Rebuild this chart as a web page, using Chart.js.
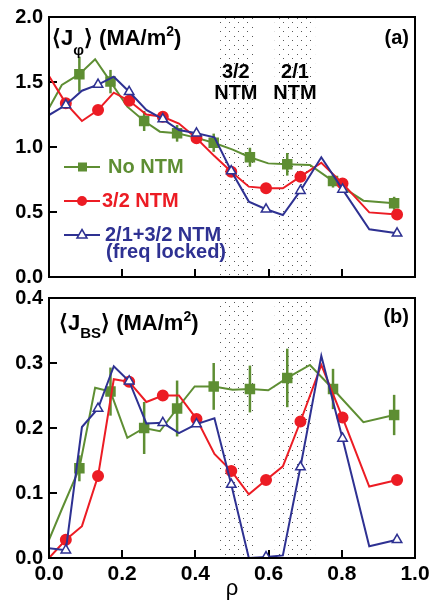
<!DOCTYPE html>
<html>
<head>
<meta charset="utf-8">
<script src="https://cdn.jsdelivr.net/npm/chart.js@4.4.1/dist/chart.umd.min.js"></script>
<style>
    body { margin: 0; background: #fff; width: 443px; height: 602px; position: relative; overflow: hidden; }
    canvas { position: absolute; left: 0; }
    #topChart { top: 0; }
    #botChart { top: 284px; }
</style>
</head>
<body>
<canvas id="topChart" width="443" height="290"></canvas>
<canvas id="botChart" width="443" height="318"></canvas>
<script>
// radial grid of each profile (rho)
const rhoNoNtm = [0, 0.035, 0.083, 0.126, 0.168, 0.214, 0.26, 0.303, 0.35, 0.398, 0.45, 0.502, 0.549, 0.599, 0.651, 0.713, 0.776, 0.859, 0.943];
const rhoNtm = [0, 0.046, 0.09, 0.134, 0.177, 0.219, 0.266, 0.311, 0.355, 0.403, 0.452, 0.498, 0.546, 0.593, 0.639, 0.687, 0.744, 0.802, 0.875, 0.951];

// (a) <J_phi> in MA/m2
const jphiNoNtm = [1.30, 1.477, 1.56, 1.675, 1.503, 1.31, 1.20, 1.118, 1.105, 1.074, 1.033, 0.98, 0.921, 0.874, 0.867, 0.862, 0.738, 0.587, 0.567];
const jphiNoNtmErr = [null, null, 0.135, null, 0.09, null, 0.077, null, 0.064, null, 0.07, null, 0.073, null, 0.087, null, 0.05, null, 0.05];
const jphi32Ntm = [1.546, 1.336, 1.20, 1.285, 1.418, 1.356, 1.25, 1.233, 1.18, 1.067, 0.93, 0.81, 0.695, 0.682, 0.682, 0.772, 0.879, 0.72, 0.497, 0.48];
const jphi21Ntm = [1.246, 1.323, 1.433, 1.48, 1.541, 1.425, 1.285, 1.215, 1.131, 1.105, 1.074, 0.815, 0.58, 0.521, 0.477, 0.664, 0.921, 0.674, 0.367, 0.336];

// (b) <J_BS> in MA/m2
const jbsNoNtm = [0.028, 0.075, 0.138, 0.262, 0.256, 0.185, 0.20, 0.195, 0.23, 0.264, 0.264, 0.259, 0.26, 0.258, 0.277, 0.297, 0.26, 0.209, 0.22];
const jbsNoNtmErr = [null, null, 0.02, null, 0.037, null, 0.04, null, 0.043, null, 0.036, null, 0.036, null, 0.045, null, 0.031, null, 0.031];
const jbs32Ntm = [0.0, 0.028, 0.049, 0.126, 0.275, 0.271, 0.24, 0.25, 0.25, 0.214, 0.16, 0.134, 0.098, 0.12, 0.141, 0.21, 0.297, 0.216, 0.11, 0.12];
const jbs21Ntm = [0.015, 0.012, 0.2015, 0.23, 0.295, 0.272, 0.207, 0.208, 0.192, 0.206, 0.215, 0.113, 0.0, 0.0015, 0.004, 0.14, 0.311, 0.184, 0.018, 0.028];

// island regions of the 3/2 and 2/1 modes
const ntmBands = [[0.463, 0.558], [0.617, 0.727]];
const ntmBandLabels = ['3/2', '2/1'];

const GREEN = '#5e8e33';
const RED = '#ec1c24';
const BLUE = '#2e3192';
const FONT = "'Liberation Sans', Arial, sans-serif";

Chart.defaults.font.family = FONT;

function series(rho, vals) {
    return rho.map((r, i) => ({ x: r, y: vals[i] }));
}

function makeDatasets(noNtm, noNtmErr, ntm32, ntm21) {
    return [
        {
            label: 'No NTM',
            data: series(rhoNoNtm, noNtm),
            errors: noNtmErr,
            borderColor: GREEN,
            backgroundColor: GREEN,
            borderWidth: 2,
            pointStyle: 'rect',
            pointRadius: (c) => noNtmErr[c.dataIndex] != null ? 6 : 0,
            order: 3
        },
        {
            label: '3/2 NTM',
            data: series(rhoNtm, ntm32),
            borderColor: RED,
            backgroundColor: RED,
            borderWidth: 2,
            pointStyle: 'circle',
            pointRadius: (c) => c.dataIndex % 2 === 1 ? 5 : 0,
            order: 2
        },
        {
            label: '2/1+3/2 NTM',
            data: series(rhoNtm, ntm21),
            borderColor: BLUE,
            backgroundColor: '#fff',
            borderWidth: 2,
            pointStyle: 'triangle',
            pointRadius: (c) => c.dataIndex % 2 === 1 ? 5.5 : 0,
            pointBorderWidth: 1.5,
            order: 1
        }
    ];
}

// dotted fill for the island regions
function dotPattern(ctx) {
    const tile = document.createElement('canvas');
    tile.width = 9;
    tile.height = 9;
    const t = tile.getContext('2d');
    t.fillStyle = '#555';
    t.fillRect(0, 0, 1, 1);
    t.fillRect(4, 4, 1, 1);
    return ctx.createPattern(tile, 'repeat');
}

const bandsPlugin = {
    id: 'bands',
    beforeDatasetsDraw(chart) {
        const { ctx, chartArea, scales: { x } } = chart;
        ctx.save();
        ctx.fillStyle = dotPattern(ctx);
        ntmBands.forEach(b => {
            const x0 = x.getPixelForValue(b[0]);
            const x1 = x.getPixelForValue(b[1]);
            ctx.fillRect(x0, chartArea.top, x1 - x0, chartArea.bottom - chartArea.top);
        });
        ctx.restore();
    }
};

const errorBars = {
    id: 'errorBars',
    beforeDatasetsDraw(chart) {
        const { ctx, scales: { x, y } } = chart;
        chart.data.datasets.forEach(ds => {
            if (!ds.errors) return;
            ctx.save();
            ctx.strokeStyle = ds.borderColor;
            ctx.lineWidth = 2.5;
            ds.data.forEach((p, i) => {
                const e = ds.errors[i];
                if (e == null) return;
                const px = x.getPixelForValue(p.x);
                ctx.beginPath();
                ctx.moveTo(px, y.getPixelForValue(p.y - e));
                ctx.lineTo(px, y.getPixelForValue(p.y + e));
                ctx.stroke();
            });
            ctx.restore();
        });
    }
};

const framePlugin = {
    id: 'frame',
    afterDraw(chart) {
        const { ctx, chartArea: a } = chart;
        ctx.save();
        ctx.strokeStyle = '#000';
        ctx.lineWidth = 2;
        ctx.strokeRect(a.left, a.top, a.right - a.left, a.bottom - a.top);
        ctx.restore();
    }
};

// <J_sub> (MA/m2)
function drawUnitLabel(ctx, x, base, sub, subFont, subDy) {
    const big = 'bold 22px ' + FONT;
    ctx.textBaseline = 'alphabetic';
    ctx.textAlign = 'left';
    ctx.fillStyle = '#000';
    ctx.font = big;
    ctx.fillText('\u27E8J', x, base);
    let cx = x + ctx.measureText('\u27E8J').width;
    ctx.font = subFont;
    ctx.fillText(sub, cx, base + subDy);
    cx += ctx.measureText(sub).width;
    ctx.font = big;
    ctx.fillText('\u27E9 (MA/m', cx, base);
    cx += ctx.measureText('\u27E9 (MA/m').width;
    ctx.font = 'bold 14px ' + FONT;
    ctx.fillText('2', cx, base - 9);
    cx += ctx.measureText('2').width;
    ctx.font = big;
    ctx.fillText(')', cx, base);
}

function drawLegendRow(ctx, y, color, style, text, tx) {
    ctx.strokeStyle = color;
    ctx.lineWidth = 2;
    ctx.beginPath();
    ctx.moveTo(64, y);
    ctx.lineTo(100, y);
    ctx.stroke();
    if (style === 'rect') {
        ctx.fillStyle = color;
        ctx.fillRect(78, y - 4.5, 9, 9);
    } else if (style === 'circle') {
        ctx.fillStyle = color;
        ctx.beginPath();
        ctx.arc(82, y, 5, 0, Math.PI * 2);
        ctx.fill();
    } else {
        ctx.fillStyle = '#fff';
        ctx.lineWidth = 1.5;
        ctx.beginPath();
        ctx.moveTo(82, y - 5.5);
        ctx.lineTo(87, y + 3);
        ctx.lineTo(77, y + 3);
        ctx.closePath();
        ctx.fill();
        ctx.stroke();
    }
    ctx.fillStyle = color;
    ctx.font = 'bold 20px ' + FONT;
    ctx.textBaseline = 'middle';
    ctx.textAlign = 'left';
    ctx.fillText(text, tx, y);
}

const topText = {
    id: 'topText',
    afterDraw(chart) {
        const { ctx, scales: { x } } = chart;
        ctx.save();
        drawUnitLabel(ctx, 52, 45, '\u03C6', 'bold 15px ' + FONT, 10);
        ctx.font = 'bold 20px ' + FONT;
        ctx.textAlign = 'right';
        ctx.textBaseline = 'middle';
        ctx.fillText('(a)', 409, 38);
        ctx.textAlign = 'center';
        ntmBands.forEach((b, i) => {
            const cx = x.getPixelForValue((b[0] + b[1]) / 2);
            ctx.fillText(ntmBandLabels[i], cx, 72);
            ctx.fillText('NTM', cx, 93);
        });
        drawLegendRow(ctx, 167, GREEN, 'rect', 'No NTM', 108);
        drawLegendRow(ctx, 201, RED, 'circle', '3/2 NTM', 102);
        drawLegendRow(ctx, 235, BLUE, 'triangle', '2/1+3/2 NTM', 105);
        ctx.fillText('(freq locked)', 106, 252);
        ctx.restore();
    }
};

const botText = {
    id: 'botText',
    afterDraw(chart) {
        const { ctx } = chart;
        ctx.save();
        drawUnitLabel(ctx, 59, 46, 'BS', 'bold 15px ' + FONT, 8);
        ctx.font = 'bold 20px ' + FONT;
        ctx.textAlign = 'right';
        ctx.textBaseline = 'middle';
        ctx.fillText('(b)', 409, 33);
        ctx.restore();
    }
};

function axisGrid() {
    return { drawOnChartArea: false, drawTicks: true, tickLength: -8, lineWidth: 2, color: '#000' };
}

function makeOptions(yMax, yStep, showX, padTop, padBottom) {
    return {
        responsive: false,
        animation: false,
        events: [],
        layout: { padding: { top: padTop, bottom: padBottom, left: 0, right: 28 } },
        plugins: { legend: { display: false }, tooltip: { enabled: false } },
        scales: {
            x: {
                type: 'linear',
                min: 0,
                max: 1,
                ticks: {
                    display: showX,
                    stepSize: 0.2,
                    padding: 12,
                    color: '#000',
                    font: { family: FONT, size: 21, weight: 'bold' },
                    callback: v => v.toFixed(1)
                },
                title: {
                    display: showX,
                    text: '\u03C1',
                    color: '#000',
                    font: { family: FONT, size: 22 },
                    padding: { top: 0, bottom: 0 }
                },
                grid: axisGrid(),
                border: { color: '#000', width: 2 },
                afterFit: s => { s.height = showX ? 44 : 0; }
            },
            y: {
                min: 0,
                max: yMax,
                ticks: {
                    stepSize: yStep,
                    padding: 14,
                    color: '#000',
                    font: { family: FONT, size: 20, weight: 'bold' },
                    callback: v => v.toFixed(1)
                },
                grid: axisGrid(),
                border: { color: '#000', width: 2 },
                afterFit: s => {
                    s.width = 49;
                    s.paddingTop = 0;
                    s.paddingBottom = 0;
                }
            }
        }
    };
}

new Chart(document.getElementById('topChart'), {
    type: 'line',
    data: { datasets: makeDatasets(jphiNoNtm, jphiNoNtmErr, jphi32Ntm, jphi21Ntm) },
    options: makeOptions(2, 0.5, false, 17, 13),
    plugins: [bandsPlugin, errorBars, framePlugin, topText]
});

new Chart(document.getElementById('botChart'), {
    type: 'line',
    data: { datasets: makeDatasets(jbsNoNtm, jbsNoNtmErr, jbs32Ntm, jbs21Ntm) },
    options: makeOptions(0.4, 0.1, true, 14, 0),
    plugins: [bandsPlugin, errorBars, framePlugin, botText]
});
</script>
</body>
</html>
